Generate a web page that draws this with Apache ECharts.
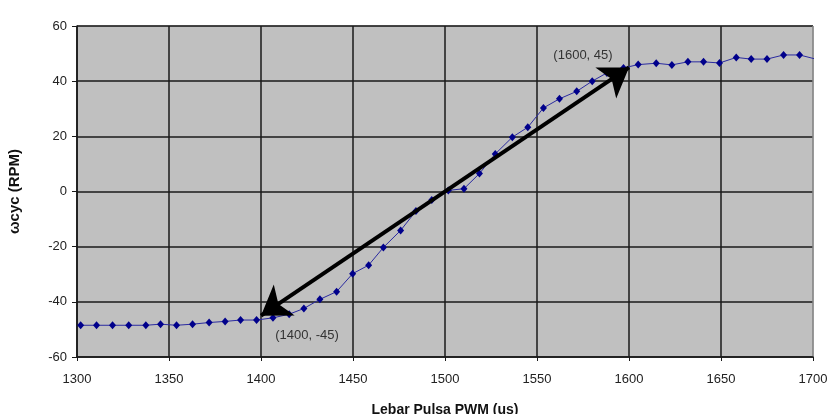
<!DOCTYPE html>
<html>
<head>
<meta charset="utf-8">
<script src="https://cdn.jsdelivr.net/npm/echarts@6/dist/echarts.min.js"></script>
<style>
html,body{margin:0;padding:0;background:#fff;}
#c{width:830px;height:414px;}
</style>
</head>
<body>
<div id="c"></div>
<script>
var pwmX = [1302,1310.6,1319.3,1328.1,1337.4,1345.4,1354.1,1362.8,1371.8,1380.5,1388.9,1397.6,
  1406.5,1415.3,1423.3,1432,1441.1,1449.8,1458.5,1466.5,1475.9,1484.2,1492.8,1501.8,1510.3,1518.7,
  1527.3,1536.6,1545,1553.5,1562.2,1571.6,1580,1588,1597,1605,1614.8,1623.3,1632,1640.5,1649.2,
  1658.3,1666.4,1675,1684,1692.7,1701.5];
var rpmY = [-48.5,-48.5,-48.5,-48.5,-48.5,-48.1,-48.5,-48.1,-47.5,-47.1,-46.6,-46.6,
  -45.8,-44.5,-42.4,-39.1,-36.3,-29.8,-26.7,-20.3,-14.1,-7.1,-3.1,0.4,1.0,6.5,
  13.6,19.7,23.3,30.3,33.6,36.3,40.0,43.0,44.8,46.0,46.5,45.9,47.0,47.0,46.6,
  48.6,48.0,48.0,49.5,49.5,48.0];
var xTicks = [1300,1350,1400,1450,1500,1550,1600,1650,1700];
var yTicks = [-60,-40,-20,0,20,40,60];
var arrowStart = [1400,-45];
var arrowEnd = [1600,45];
var labelStart = '(1400, -45)';
var labelEnd = '(1600, 45)';
var xName = 'Lebar Pulsa PWM (us)';
var yName = '\u03c9cyc (RPM)';

var pts = pwmX.map(function(x,i){
  var d = {value:[x, rpmY[i]]};
  if (x > xTicks[xTicks.length-1]) { d.symbol = 'none'; }
  return d;
});
var xSplitColors = xTicks.map(function(t,i){ return i === xTicks.length-1 ? '#8a8a8a' : '#1a1a1a'; });

var chart = echarts.init(document.getElementById('c'), null, {renderer:'canvas'});
chart.setOption({
  animation:false,
  backgroundColor:'#ffffff',
  textStyle:{fontFamily:'Liberation Sans, Arial, sans-serif'},
  grid:{left:77,right:17,top:26,bottom:57,containLabel:false,outerBoundsMode:'none',
    show:true,backgroundColor:'#c0c0c0',borderColor:'#8a8a8a',borderWidth:1},
  xAxis:{
    type:'value', min:xTicks[0], max:xTicks[xTicks.length-1], interval:50,
    name:xName, nameLocation:'middle', nameGap:46,
    nameTextStyle:{fontWeight:'bold',fontSize:14,color:'#111'},
    axisLine:{show:true,onZero:false,lineStyle:{color:'#1a1a1a',width:1.5}},
    axisTick:{show:true,length:4,inside:false,lineStyle:{color:'#1a1a1a'}},
    axisLabel:{fontSize:13,color:'#222',margin:16,formatter:function(v){return String(v);}},
    splitLine:{show:true,lineStyle:{color:xSplitColors,width:1.5}}
  },
  yAxis:{
    type:'value', min:yTicks[0], max:yTicks[yTicks.length-1], interval:20,
    name:yName, nameLocation:'middle', nameGap:55,
    nameTextStyle:{fontWeight:'bold',fontSize:15,color:'#111'},
    axisLine:{show:true,onZero:false,lineStyle:{color:'#1a1a1a',width:1.5}},
    axisTick:{show:true,length:5,lineStyle:{color:'#1a1a1a'}},
    axisLabel:{fontSize:13,color:'#222',margin:10,formatter:function(v){return String(v);}},
    splitLine:{show:true,lineStyle:{color:'#1a1a1a',width:1.5}}
  },
  series:[
    {
      type:'line', data:pts, clip:false,
      symbol:'diamond', symbolSize:[7,8],
      itemStyle:{color:'#00008b'},
      lineStyle:{color:'#2a2aa0',width:1},
      z:3
    },
    {
      type:'line', data:[], silent:true, z:5,
      markLine:{
        silent:true,
        symbol:['arrow','arrow'],
        symbolSize:28,
        label:{show:false},
        lineStyle:{color:'#000',width:4,type:'solid'},
        emphasis:{disabled:true},
        data:[[{coord:arrowStart},{coord:arrowEnd}]]
      },
      markPoint:{
        silent:true,
        symbol:'circle', symbolSize:0,
        label:{show:true,fontSize:13,color:'#333',formatter:function(p){return p.name;}},
        data:[
          {name:labelEnd, coord:arrowEnd, label:{offset:[-46,-12]}},
          {name:labelStart, coord:arrowStart, label:{offset:[46,20]}}
        ]
      }
    }
  ]
});
</script>
</body>
</html>
